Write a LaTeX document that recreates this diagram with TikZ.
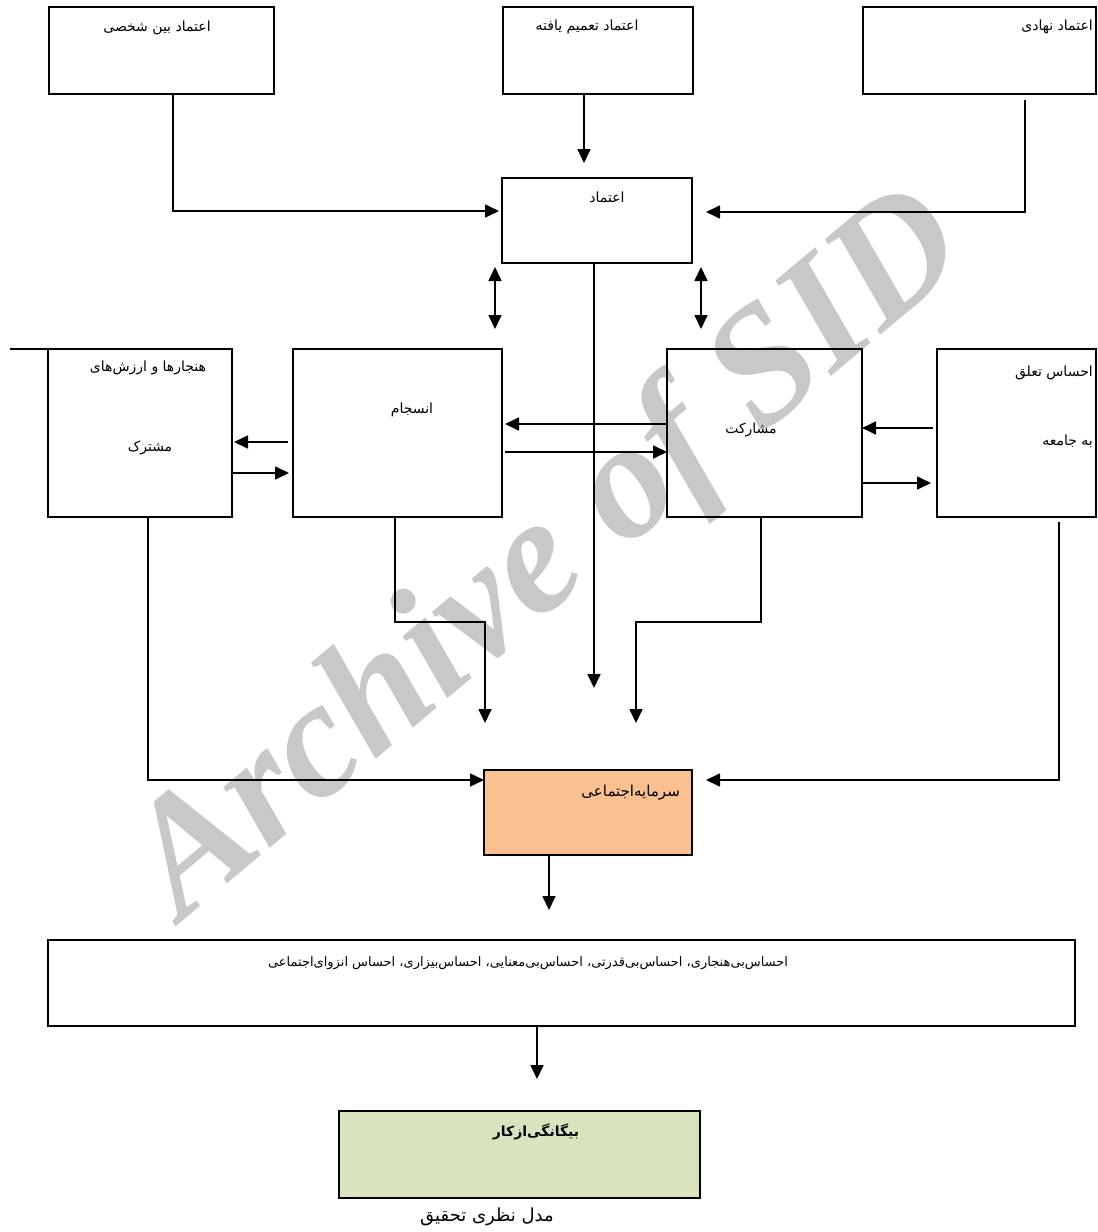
\documentclass[tikz,border=0pt]{standalone}
\usepackage{fontspec}
\usetikzlibrary{arrows.meta,calc}
\TeXXeTstate=1
\newfontfamily\fa[Script=Arabic]{DejaVu Sans}
\newfontfamily\wmfont{Liberation Serif}
\definecolor{sarfill}{HTML}{FAC090}
\definecolor{grfill}{HTML}{D7E4BD}
\definecolor{wmgray}{RGB}{200,200,200}
\tikzset{
  box/.style={draw, line width=1.8pt, inner sep=0pt, outer sep=0pt},
  conn/.style={line width=1.7pt, -{Triangle[length=14pt,width=13pt]}},
  dbl/.style={line width=1.7pt, {Triangle[length=14pt,width=13pt]}-{Triangle[length=14pt,width=13pt]}},
  plain/.style={line width=1.7pt},
  lbl/.style={font=\fa\fontsize{14}{16}\selectfont, inner sep=0pt},
  wm/.style={font=\wmfont\bfseries\itshape\fontsize{166}{166}\selectfont, text=wmgray, inner sep=0pt}
}
\begin{document}
\begin{tikzpicture}[x=1pt,y=-1pt]
\useasboundingbox (0,0) rectangle (1098,1232);
\fill[white] (0,0) rectangle (1098,1232);
% watermark
\node[wm, rotate=40] (wmark) at (552,558) {Archive of SID};
% boxes
\node[box, minimum width=225pt, minimum height=87pt] (b1) at (161.5,50.5) {};
\node[box, minimum width=190pt, minimum height=87pt] (b2) at (598,50.5) {};
\node[box, minimum width=233pt, minimum height=87pt] (b3) at (979.5,50.5) {};
\node[box, minimum width=190pt, minimum height=85pt] (ea) at (597,220.5) {};
\node[box, minimum width=184pt, minimum height=168pt] (hn) at (140,433) {};
\node[box, minimum width=209pt, minimum height=168pt] (ens) at (397.5,433) {};
\node[box, minimum width=195pt, minimum height=168pt] (mos) at (764.5,433) {};
\node[box, minimum width=159pt, minimum height=168pt] (ehs) at (1016.5,433) {};
\node[box, fill=sarfill, minimum width=208pt, minimum height=85pt] (sar) at (588,812.5) {};
\node[box, minimum width=1027pt, minimum height=86pt] (long) at (561.5,983) {};
\node[box, fill=grfill, minimum width=361pt, minimum height=87pt] (green) at (519.5,1154.5) {};
% labels
\node[lbl] (t1) at (157,28) {\beginR اعتماد بین شخصی\endR};
\node[lbl] (t2) at (587,27) {\beginR اعتماد تعمیم یافته\endR};
\node[lbl, anchor=east] (t3) at (1093,27) {\beginR اعتماد نهادی\endR};
\node[lbl] (t4) at (607,197) {\beginR اعتماد\endR};
\node[lbl] (t5) at (148,368) {\beginR هنجارها و ارزش‌های\endR};
\node[lbl] (t6) at (150,448) {\beginR مشترک\endR};
\node[lbl] (t7) at (412,410) {\beginR انسجام\endR};
\node[lbl] (t8) at (751,430) {\beginR مشارکت\endR};
\node[lbl, anchor=east] (t9) at (1093,373) {\beginR احساس تعلق\endR};
\node[lbl, anchor=east] (t10) at (1093,441) {\beginR به جامعه\endR};
\node[lbl, anchor=east, font=\fa\fontsize{15}{17}\selectfont] (t11) at (680,793) {\beginR سرمایه‌اجتماعی\endR};
\node[lbl, font=\fa\fontsize{13}{15}\selectfont] (t12) at (528,963) {\beginR احساس‌بی‌هنجاری، احساس‌بی‌قدرتی، احساس‌بی‌معنایی، احساس‌بیزاری، احساس انزوای‌اجتماعی\endR};
\node[lbl, font=\fa\bfseries\fontsize{14}{16}\selectfont] (t13) at (536,1132) {\beginR بیگانگی‌ازکار\endR};
\node[lbl, font=\fa\fontsize{18}{20}\selectfont] (cap) at (487,1217) {\beginR مدل نظری تحقیق\endR};
% stray stub line
\coordinate (stub) at (10,349);
\draw[plain] (stub) -- (hn.north west);
% top connectors
\draw[conn] ($(b1.south)+(11.5,0)$) |- ($(ea.west)+(-3,-9.5)$);
\draw[conn] ($(b2.south)+(-14,0)$) -- ($(ea.north)+(-13,-15)$);
\draw[conn] ($(b3.south)+(45.5,6)$) |- ($(ea.east)+(14,-8.5)$);
% double arrows
\draw[dbl] ($(ea.south)+(-102,4)$) -- ($(ens.north)+(97.5,-20)$);
\draw[dbl] ($(ea.south)+(104,4)$) -- ($(mos.north)+(-63.5,-20)$);
% central line
\draw[conn] ($(ea.south)+(-3,0)$) -- ($(sar.north)+(6,-82)$);
% horizontal pairs
\draw[conn] ($(ens.west)+(-5,9)$) -- ($(hn.east)+(2,9)$);
\draw[conn] ($(hn.east)+(1,40)$) -- ($(ens.west)+(-4,40)$);
\draw[conn] ($(mos.west)+(0,-9)$) -- ($(ens.east)+(3,-9)$);
\draw[conn] ($(ens.east)+(3,19)$) -- ($(mos.west)+(0,19)$);
\draw[conn] ($(ehs.west)+(-4,-5)$) -- ($(mos.east)+(0,-5)$);
\draw[conn] ($(mos.east)+(0,50)$) -- ($(ehs.west)+(-6,50)$);
% down to social capital
\draw[conn] ($(hn.south)+(8,0)$) |- ($(sar.west)+(0,-32.5)$);
\draw[conn] ($(ens.south)+(-2.5,0)$) |- ($(sar.north)+(-103,-148)$) -- ($(sar.north)+(-103,-47)$);
\draw[conn] ($(mos.south)+(-3.5,0)$) |- ($(sar.north)+(48,-148)$) -- ($(sar.north)+(48,-47)$);
\draw[conn] ($(ehs.south)+(42.5,5)$) |- ($(sar.east)+(14,-32.5)$);
% bottom chain
\draw[conn] ($(sar.south)+(-39,0)$) -- ($(long.north)+(-12.5,-30)$);
\draw[conn] ($(long.south)+(-24.5,0)$) -- ($(green.north)+(17.5,-32)$);
\end{tikzpicture}
\end{document}
